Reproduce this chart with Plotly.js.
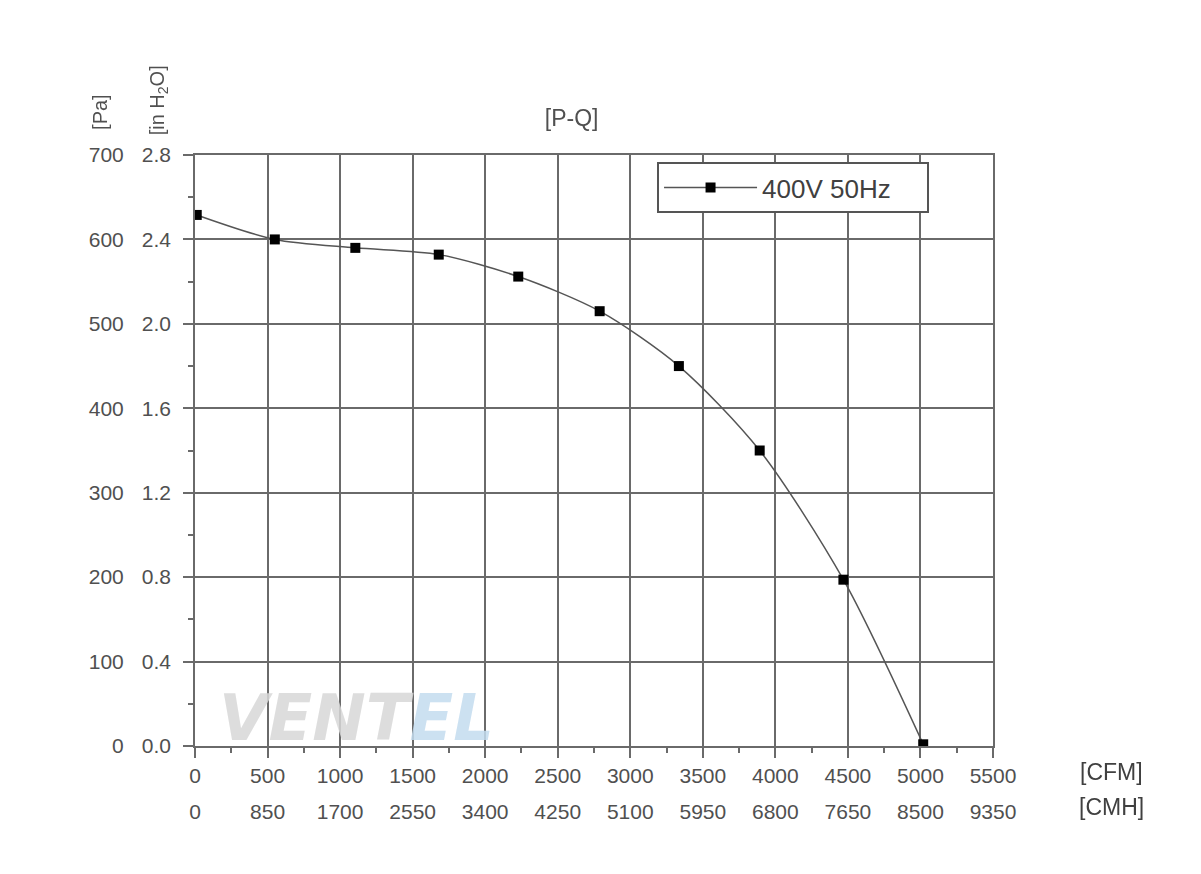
<!DOCTYPE html>
<html>
<head>
<meta charset="utf-8">
<script src="https://cdn.plot.ly/plotly-3.0.1.min.js"></script>
<style>html,body{margin:0;padding:0;background:#fff;}</style>
</head>
<body>
<div id="chart" style="width:1201px;height:874px;"></div>
<script>
// Data
const flowCFM = [12, 550, 1105, 1680, 2228, 2789, 3335, 3892, 4469, 5019];
const pressurePa = [629, 600, 590, 582, 556, 515, 450, 350, 197, 2];
const seriesName = "400V 50Hz";

// Tick labels
const cfmTicks = [0, 500, 1000, 1500, 2000, 2500, 3000, 3500, 4000, 4500, 5000, 5500];
const cmhLabels = ["0", "850", "1700", "2550", "3400", "4250", "5100", "5950", "6800", "7650", "8500", "9350"];
const paTicks = [0, 100, 200, 300, 400, 500, 600, 700];
const inH2OLabels = ["0.0", "0.4", "0.8", "1.2", "1.6", "2.0", "2.4", "2.8"];

const textColor = "#505050";
const gridColor = "#6a6a6a";
const fontFam = "Liberation Sans, Arial, sans-serif";

const traces = [
  {
    x: flowCFM, y: pressurePa, name: seriesName,
    type: "scatter", mode: "lines+markers",
    line: {color: "#555555", width: 1.5, shape: "spline", smoothing: 0.8},
    marker: {symbol: "square", size: 10, color: "#000000"},
    xaxis: "x", yaxis: "y"
  },
  {
    x: flowCFM, y: pressurePa, type: "scatter", mode: "markers",
    opacity: 0, showlegend: false, hoverinfo: "skip",
    xaxis: "x2", yaxis: "y2"
  }
];

const layout = {
  width: 1201, height: 874,
  paper_bgcolor: "#ffffff", plot_bgcolor: "#ffffff",
  margin: {l: 195, r: 208, t: 155, b: 128},
  font: {family: fontFam, color: textColor, size: 21},
  title: {text: "[P-Q]", x: 0.476, xref: "container", xanchor: "center", y: 0.865, yref: "container", yanchor: "middle", font: {size: 23, color: textColor}},
  showlegend: true,
  legend: {
    x: 0.579, y: 0.988, xanchor: "left", yanchor: "top",
    orientation: "h", entrywidth: 160,
    bgcolor: "#ffffff", bordercolor: "#555555", borderwidth: 2,
    font: {size: 26, color: "#404040"}, itemwidth: 93
  },
  xaxis: {
    range: [0, 5500], tickmode: "array", tickvals: cfmTicks, ticktext: cfmTicks.map(String),
    showgrid: true, gridcolor: gridColor, gridwidth: 2,
    showline: true, linecolor: gridColor, linewidth: 2, mirror: true,
    ticks: "outside", ticklen: 10, tickcolor: gridColor, tickwidth: 2,
    minor: {dtick: 250, ticks: "outside", ticklen: 5, tickcolor: gridColor, showgrid: false},
    zeroline: false, fixedrange: true
  },
  xaxis2: {
    range: [0, 5500], overlaying: "x", anchor: "y", side: "bottom",
    tickmode: "array", tickvals: cfmTicks, ticktext: cmhLabels,
    showgrid: false, showline: false, ticks: "", zeroline: false,
    ticklabelstandoff: 51, fixedrange: true
  },
  yaxis: {
    range: [0, 700], tickmode: "array", tickvals: paTicks, ticktext: paTicks.map(String),
    showgrid: true, gridcolor: gridColor, gridwidth: 2,
    showline: true, linecolor: gridColor, linewidth: 2, mirror: true,
    ticks: "outside", ticklen: 10, tickcolor: gridColor, tickwidth: 2,
    minor: {dtick: 50, ticks: "outside", ticklen: 5, tickcolor: gridColor, showgrid: false},
    zeroline: false, ticklabelstandoff: 55, fixedrange: true
  },
  yaxis2: {
    range: [0, 700], overlaying: "y", anchor: "x", side: "left",
    tickmode: "array", tickvals: paTicks, ticktext: inH2OLabels,
    showgrid: false, showline: false, ticks: "", zeroline: false,
    ticklabelstandoff: 23, fixedrange: true
  },
  annotations: [
    {text: "[Pa]", xref: "paper", yref: "paper", x: -0.119, y: 1.073, xanchor: "center", yanchor: "middle", showarrow: false, textangle: -90, font: {size: 20, color: textColor}},
    {text: "[in H<sub>2</sub>O]", xref: "paper", yref: "paper", x: -0.046, y: 1.093, xanchor: "center", yanchor: "middle", showarrow: false, textangle: -90, font: {size: 20, color: textColor}},
    {text: "[CFM]", xref: "paper", yref: "paper", x: 1.149, y: -0.044, xanchor: "center", yanchor: "middle", showarrow: false, font: {size: 23, color: "#404040"}},
    {text: "[CMH]", xref: "paper", yref: "paper", x: 1.149, y: -0.103, xanchor: "center", yanchor: "middle", showarrow: false, font: {size: 23, color: "#404040"}},
    {text: "<b><i>VENT<span style='color:#c4dcef'>EL</span></i></b>", xref: "paper", yref: "paper", x: 0.203, y: 0.047, xanchor: "center", yanchor: "middle", showarrow: false, font: {size: 64, color: "#d8d8d8", family: "DejaVu Sans"}, opacity: 0.85}
  ]
};

Plotly.newPlot("chart", traces, layout, {displayModeBar: false, staticPlot: true});
</script>
</body>
</html>
